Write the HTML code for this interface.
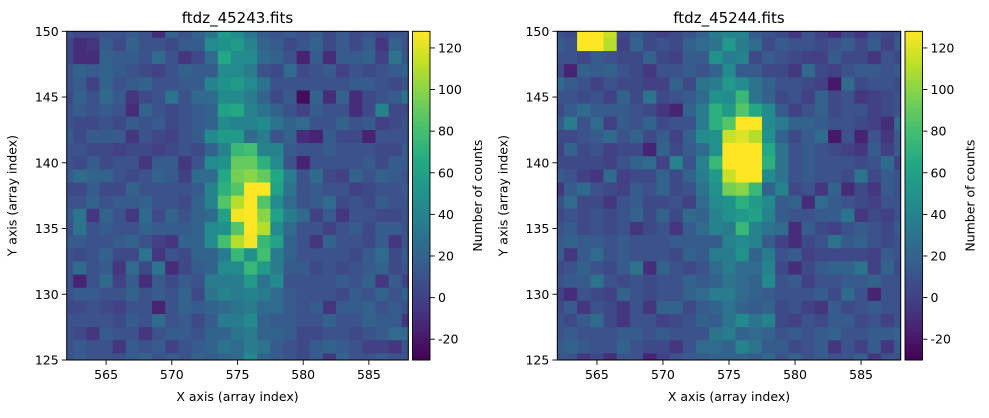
<!DOCTYPE html>
<html><head><meta charset="utf-8"><style>
html,body{margin:0;padding:0;background:#fff;}
svg text{font-family:"DejaVu Sans","Liberation Sans",sans-serif;fill:#000;}
</style></head><body>
<svg id="fig" width="989" height="413" viewBox="0 0 989 413" xmlns="http://www.w3.org/2000/svg"></svg>
<script>
const xStart = 562, xEnd = 588, yStart = 125, yEnd = 150;
const xTicks = [565, 570, 575, 580, 585];
const yTicks = [125, 130, 135, 140, 145, 150];
const cbTicks = [-20, 0, 20, 40, 60, 80, 100, 120];
const vmin = -30, vmax = 128;
const titles = ["ftdz_45243.fits", "ftdz_45244.fits"];
// rows from y=150 (top) down to y=125; columns x=562..588
const leftGrid = [
[10,5,5,10,10,15,10,-10,20,10,20,30,55,45,30,15,10,15,10,15,5,15,5,10,5,10,10],
[5,-10,-5,15,5,20,10,10,5,15,15,45,50,55,40,20,15,5,10,20,5,15,5,15,-5,20,10],
[5,-10,-10,20,15,15,10,25,10,-5,5,25,65,45,45,25,20,10,-15,15,-10,15,15,20,0,30,10],
[10,20,15,20,15,10,5,0,10,20,15,15,45,45,35,10,5,25,5,10,15,0,10,5,10,15,20],
[10,15,0,20,10,15,20,10,10,15,15,40,50,55,45,30,10,10,10,10,10,10,15,15,10,5,10],
[5,20,10,25,15,-5,5,10,30,10,25,25,45,45,35,20,5,15,-25,20,-10,20,-10,5,10,15,30],
[10,15,10,15,10,-10,20,10,5,10,15,20,60,65,40,30,20,10,0,15,10,10,-10,5,40,5,5],
[10,5,5,10,5,15,10,15,5,10,15,20,45,40,40,45,30,20,25,10,10,20,10,15,0,5,10],
[15,5,15,15,15,-5,10,5,0,10,15,45,55,55,25,35,10,20,-10,-15,15,5,5,-15,10,10,10],
[10,10,5,5,0,5,5,0,5,10,5,20,40,75,80,40,40,15,10,10,15,10,10,10,5,5,15],
[10,5,15,5,10,10,-5,15,15,-5,10,45,50,90,90,70,45,10,-15,10,10,10,10,15,5,15,15],
[15,25,20,20,10,5,10,20,15,0,25,25,65,95,100,90,65,35,10,25,5,0,20,10,20,15,10],
[5,5,15,5,5,20,10,10,10,10,15,40,70,85,130,130,60,30,10,15,10,10,0,5,10,10,15],
[10,10,20,10,15,15,20,10,10,5,20,40,85,110,130,85,45,25,10,15,25,5,10,5,15,10,10],
[15,30,-5,20,10,-5,25,5,20,10,20,25,60,125,130,100,60,35,25,0,15,-5,10,10,5,5,10],
[10,30,10,15,10,10,20,15,15,15,20,45,50,85,130,110,45,25,10,10,0,10,15,5,15,15,10],
[15,15,10,10,15,20,10,0,-5,20,20,45,80,110,125,75,60,20,10,-5,20,10,10,5,15,-5,10],
[10,5,10,20,5,5,30,-5,10,5,20,20,35,75,50,80,35,20,10,10,10,10,5,15,25,5,15],
[10,25,10,15,-5,25,5,30,-10,5,15,20,45,45,75,55,35,15,15,5,10,5,10,15,20,5,10],
[10,-15,10,25,0,15,-10,15,5,15,10,35,35,35,55,30,45,10,10,10,10,15,10,20,-5,15,0],
[10,15,15,10,10,20,10,15,10,20,5,30,40,35,40,35,25,15,10,10,10,5,15,10,20,10,20],
[5,5,10,5,0,10,10,-15,10,20,15,20,25,30,35,25,25,15,10,15,-5,15,15,20,10,15,10],
[10,10,10,10,5,15,10,25,10,15,5,15,35,35,45,20,15,15,10,10,20,10,10,20,15,15,-5],
[10,5,-5,15,10,10,-5,10,15,15,10,20,20,30,35,20,20,15,5,5,10,10,5,10,15,25,25],
[10,15,10,10,-5,15,10,15,0,10,15,20,30,25,35,30,15,10,5,15,20,15,10,0,0,-5,10],
[10,15,10,10,10,15,20,10,15,10,20,15,20,25,45,20,15,10,5,15,-5,20,10,10,15,10,10]
];
const rightGrid = [
[10,5,130,130,115,5,15,5,0,5,10,20,35,40,40,15,10,5,-5,10,0,-10,5,-5,10,5,10],
[15,10,130,130,110,0,20,5,10,5,20,25,30,55,35,25,5,15,10,10,5,10,15,5,15,0,15],
[10,10,5,15,10,5,5,20,5,0,15,15,50,35,40,5,15,10,5,0,0,15,5,5,-5,10,5],
[5,-15,20,15,20,10,5,-5,10,10,15,10,20,45,15,15,5,5,-5,25,5,0,10,15,15,10,15],
[25,15,10,0,10,5,5,0,0,20,5,30,35,55,45,30,20,10,10,5,0,-20,25,5,10,10,5],
[10,10,5,10,0,20,5,30,5,10,15,25,50,45,75,30,20,5,10,0,20,5,10,-5,0,5,10],
[5,15,25,15,15,15,10,5,-5,-15,20,35,70,55,85,65,45,15,0,10,20,5,10,10,0,5,10],
[15,35,10,25,0,15,10,20,5,10,10,35,70,85,130,130,45,35,20,20,15,10,10,5,0,-10,25],
[5,5,10,15,25,10,20,5,15,0,20,45,50,115,120,110,50,20,5,15,25,-20,10,-15,10,-5,15],
[0,20,5,10,0,5,5,-15,20,5,15,25,50,130,130,130,65,30,10,15,10,5,0,-5,15,0,15],
[5,5,5,5,0,10,20,25,0,40,10,40,75,130,130,130,70,30,10,15,10,10,10,5,10,25,0],
[15,10,0,-5,25,0,5,5,20,5,20,35,55,115,130,130,45,30,10,15,10,10,5,30,5,15,10],
[-5,15,25,10,5,0,15,10,20,5,10,30,50,95,100,75,20,40,5,10,-5,20,-10,5,-5,15,10],
[10,25,5,5,-5,10,15,5,5,10,0,25,45,50,70,55,45,15,20,-10,25,15,10,5,0,10,10],
[5,10,5,10,5,10,20,5,20,5,25,20,40,50,55,60,40,15,10,10,15,15,30,-5,5,0,10],
[10,15,5,10,5,10,-5,5,10,-5,15,25,40,35,75,40,30,25,-10,15,5,0,10,15,10,5,15],
[15,20,15,15,10,15,10,10,10,15,15,15,15,40,45,40,15,0,-10,5,10,30,15,20,10,5,10],
[15,-5,15,25,10,15,10,10,10,5,20,15,35,35,50,20,35,10,15,0,5,5,5,5,0,15,10],
[5,10,20,10,5,15,30,-10,20,10,5,10,25,35,25,25,40,5,-10,5,15,20,20,30,0,20,5],
[10,15,15,30,10,5,10,5,10,10,20,15,20,30,25,20,45,10,15,0,10,10,15,15,20,10,10],
[0,-10,10,5,0,20,10,5,10,10,20,25,35,35,25,20,15,10,10,10,15,5,25,10,-15,10,10],
[5,15,-5,10,5,-5,10,-5,20,20,5,15,20,30,20,15,20,5,10,0,-5,15,5,10,15,10,10],
[10,5,15,25,5,-5,10,10,0,5,10,20,15,30,45,30,40,5,0,10,5,15,15,5,10,0,10],
[10,15,10,10,10,15,15,10,15,10,10,10,30,35,20,25,20,10,15,10,15,20,10,10,15,15,20],
[15,20,15,10,10,20,10,5,5,-5,10,25,25,20,40,30,15,15,5,10,15,-5,10,0,15,-5,15],
[10,10,-5,5,-10,10,10,-15,0,10,15,15,20,20,20,15,25,10,20,10,15,10,10,20,-5,10,10]
];

const NS = "http://www.w3.org/2000/svg";
const svg = document.getElementById('fig');
const vir = ["#440154","#482475","#414487","#355f8d","#2a788e","#21918c","#22a884","#44bf70","#7ad151","#bddf26","#fde725"];
function hex(h){return [1,3,5].map(i=>parseInt(h.substr(i,2),16));}
function cmap(v){
  let t=(v-vmin)/(vmax-vmin); t=Math.max(0,Math.min(1,t));
  const p=t*10, i=Math.min(9,Math.floor(p)), f=p-i;
  const a=hex(vir[i]), b=hex(vir[i+1]);
  return "rgb("+a.map((c,j)=>Math.round(c+(b[j]-c)*f)).join(",")+")";
}
function el(tag, attrs, parent){
  const e=document.createElementNS(NS,tag);
  for(const k in attrs) e.setAttribute(k,attrs[k]);
  (parent||svg).appendChild(e); return e;
}
function txt(s, attrs, parent){const t=el('text',attrs,parent); t.textContent=s; return t;}

const panels = [
  {grid:leftGrid, x0:66.7, x1:408.3, y0:31.3, y1:360, cbx:412.5, title:titles[0], id:'left'},
  {grid:rightGrid, x0:557.3, x1:900.7, y0:31.3, y1:360, cbx:905, title:titles[1], id:'right'}
];
panels.forEach(P=>{
  const g=el('g',{});
  
  
  const sx=v=>P.x0+(v-xStart)/(xEnd-xStart)*(P.x1-P.x0);
  const sy=v=>P.y1-(v-yStart)/(yEnd-yStart)*(P.y1-P.y0);
  const hm=el('g',{},g);
  
  
  P.grid.forEach((row,r)=>{
    const yc=yEnd-r;
    row.forEach((v,c)=>{
      const xc=xStart+c;
      const xa=Math.max(xStart,xc-0.5), xb=Math.min(xEnd,xc+0.5);
      const ya=Math.max(yStart,yc-0.5), yb=Math.min(yEnd,yc+0.5);
      const rc=el('rect',{x:sx(xa),y:sy(yb),width:sx(xb)-sx(xa)+0.4,height:sy(ya)-sy(yb)+0.4,fill:cmap(v)},hm);
      
      
    });
  });
  const fr=el('rect',{x:P.x0,y:P.y0,width:P.x1-P.x0,height:P.y1-P.y0,fill:'none',stroke:'#000','stroke-width':1},g);
  
  
  xTicks.forEach(t=>{
    const x=sx(t);
    el('line',{x1:x,x2:x,y1:P.y1,y2:P.y1+4.9,stroke:'#000','stroke-width':0.9},g);
    const l=txt(String(t),{x:x,y:P.y1+19,'text-anchor':'middle','font-size':12.5},g);
    
    
  });
  yTicks.forEach(t=>{
    const y=sy(t);
    el('line',{x1:P.x0-4.9,x2:P.x0,y1:y,y2:y,stroke:'#000','stroke-width':0.9},g);
    const l=txt(String(t),{x:P.x0-8,y:y+4.5,'text-anchor':'end','font-size':12.5},g);
    
    
  });
  const tt=txt(P.title,{x:(P.x0+P.x1)/2,y:23,'text-anchor':'middle','font-size':15},g);
  
  
  const xl=txt("X axis (array index)",{x:(P.x0+P.x1)/2,y:401,'text-anchor':'middle','font-size':12.5},g);
  
  
  const yx=P.x0-50;
  const yl=txt("Y axis (array index)",{x:yx,y:(P.y0+P.y1)/2,'text-anchor':'middle','font-size':12.5,transform:`rotate(-90 ${yx} ${(P.y0+P.y1)/2})`},g);
  
  
  // colorbar
  const cw=17.5;
  const cb=el('g',{},g);
  
  
  const N=80;
  for(let i=0;i<N;i++){
    const v0=vmin+(vmax-vmin)*i/N, v1=vmin+(vmax-vmin)*(i+1)/N;
    const cy=v=>P.y1-(v-vmin)/(vmax-vmin)*(P.y1-P.y0);
    el('rect',{x:P.cbx,y:cy(v1),width:cw,height:cy(v0)-cy(v1)+0.5,fill:cmap((v0+v1)/2)},cb);
  }
  el('rect',{x:P.cbx,y:P.y0,width:cw,height:P.y1-P.y0,fill:'none',stroke:'#000','stroke-width':0.9},cb);
  cbTicks.forEach(t=>{
    const y=P.y1-(t-vmin)/(vmax-vmin)*(P.y1-P.y0);
    el('line',{x1:P.cbx+cw,x2:P.cbx+cw+4.9,y1:y,y2:y,stroke:'#000','stroke-width':0.9},cb);
    const l=txt(String(t),{x:P.cbx+cw+8,y:y+4.5,'font-size':12.5},cb);
    
    
  });
  const lx=P.cbx+cw+52, ly=(P.y0+P.y1)/2;
  const cl=txt("Number of counts",{x:lx,y:ly,'text-anchor':'middle','font-size':12.5,transform:`rotate(-90 ${lx} ${ly})`},cb);
  
  
});
</script>
</body></html>
